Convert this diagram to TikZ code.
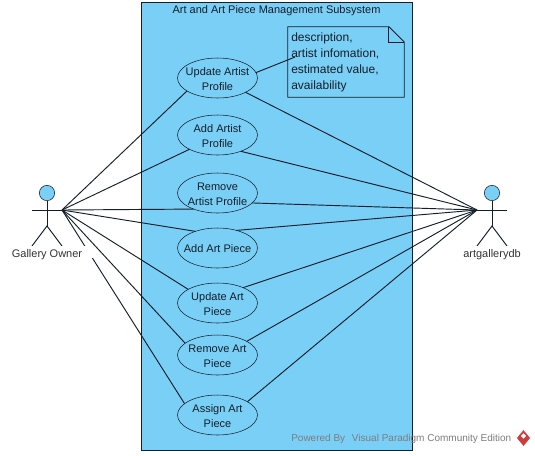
\documentclass[tikz,border=0pt]{standalone}
\usepackage{fontspec}
\setmainfont{Liberation Sans}
\usetikzlibrary{shapes.geometric}
\definecolor{skyx}{RGB}{122,207,247}
\definecolor{inkx}{RGB}{20,30,40}
\definecolor{wmx}{RGB}{125,125,125}
\definecolor{redx}{RGB}{205,60,60}
\newcommand{\ucone}[1]{\raisebox{-3.6pt}[0pt][0pt]{\makebox[0pt]{#1}}}
\newcommand{\ucase}[2]{\ucone{#1}\\\ucone{#2}}
\tikzset{
    usecase/.style={ellipse,draw=inkx,fill=skyx,inner sep=0pt,outer sep=0pt,minimum width=60pt,minimum height=30pt,align=center,font=\fontsize{8.25}{11.25}\selectfont,text=inkx},
    wire/.style={inkx,line width=0.7pt},
    actorhead/.style={circle,draw=inkx,fill=skyx,inner sep=0pt,minimum size=11.5pt},
    actorname/.style={fill=white,inner sep=0pt,minimum width=69pt,text height=8.25pt,text depth=0.75pt,font=\fontsize{8.25}{10}\selectfont,text=black!80}
}
\begin{document}
\begin{tikzpicture}[x=0.75pt,y=-0.75pt]
            \useasboundingbox (0,0) rectangle (535,455);
            \fill[white] (0,0) rectangle (535,455);
            \draw[inkx,fill=skyx,line width=0.75pt] (141,2) rectangle (412,450);
            \node [font=\fontsize{8.25}{10}\selectfont,text=inkx] (title) at (276.5,10.5) {Art and Art Piece Management Subsystem};
            % use cases
            \node [usecase] (upartist) at (217.5,78) {\ucase{Update Artist}{Profile}};
            \node [usecase] (addartist) at (217.5,135) {\ucase{Add Artist}{Profile}};
            \node [usecase] (rmartist) at (217.5,193) {\ucase{Remove}{Artist Profile}};
            \node [usecase] (addpiece) at (217.5,248) {\ucone{Add Art Piece}};
            \node [usecase] (uppiece) at (217.5,303) {\ucase{Update Art}{Piece}};
            \node [usecase] (rmpiece) at (217.5,355) {\ucase{Remove Art}{Piece}};
            \node [usecase] (assign) at (217.5,415) {\ucase{Assign Art}{Piece}};
            % actors
            \foreach \who/\x in {owner/47,db/492} {
                \node [actorhead] (\who head) at (\x,193) {};
                \coordinate (\who left) at (\x-15,210);
                \coordinate (\who right) at (\x+15,210);
                \coordinate (\who hip) at (\x,226);
                \coordinate (\who footl) at (\x-15,246);
                \coordinate (\who footr) at (\x+15,246);
                \draw[wire] (\who head) -- (\who hip);
                \draw[wire] (\who left) -- (\who right);
                \draw[wire] (\who footl) -- (\who hip) -- (\who footr);
            }
            \foreach \uc/\a/\b in {upartist/203/-27,addartist/207/-35,rmartist/214/-16,addpiece/143/43,uppiece/155/31,rmpiece/160/25,assign/161/24} {
                \draw[wire] (ownerright) -- (\uc.\a);
                \draw[wire] (dbleft) -- (\uc.\b);
            }
            \node [actorname] (ownername) at (47,252) {Gallery Owner};
            \node [actorname] (dbname) at (492,252) {artgallerydb};
            % note
            \node [inner sep=0pt,minimum width=87pt,minimum height=52.5pt] (note) at (346,62) {};
            \draw[inkx,fill=skyx,line width=0.7pt] (note.north west) -- ([xshift=-11.5pt]note.north east)
                -- ([yshift=-11.5pt]note.north east) -- (note.south east) -- (note.south west) -- cycle;
            \draw[inkx,line width=0.7pt] ([xshift=-11.5pt]note.north east) |- ([yshift=-11.5pt]note.north east);
            \node [anchor=north west,inner sep=0pt,align=left,font=\fontsize{9}{12}\selectfont,text=inkx] (notetext) at (291,33)
                {description,\\artist infomation,\\estimated value,\\availability};
            \coordinate (notepin) at (295,57);
            \draw[wire] (upartist.8) -- (notepin);
            % watermark
            \node [anchor=west,inner sep=0pt,font=\fontsize{7.5}{10}\selectfont,text=wmx] (mark) at (291,439) {Powered By\hspace{3pt} Visual Paradigm Community Edition};
            \node [diamond,fill=redx,inner sep=0pt,minimum width=10pt,minimum height=12pt] (logo) at (523.5,438) {};
            \node [diamond,fill=white,inner sep=0pt,minimum size=4pt] (logodot) at (523.5,436) {};
        \end{tikzpicture}
\end{document}
